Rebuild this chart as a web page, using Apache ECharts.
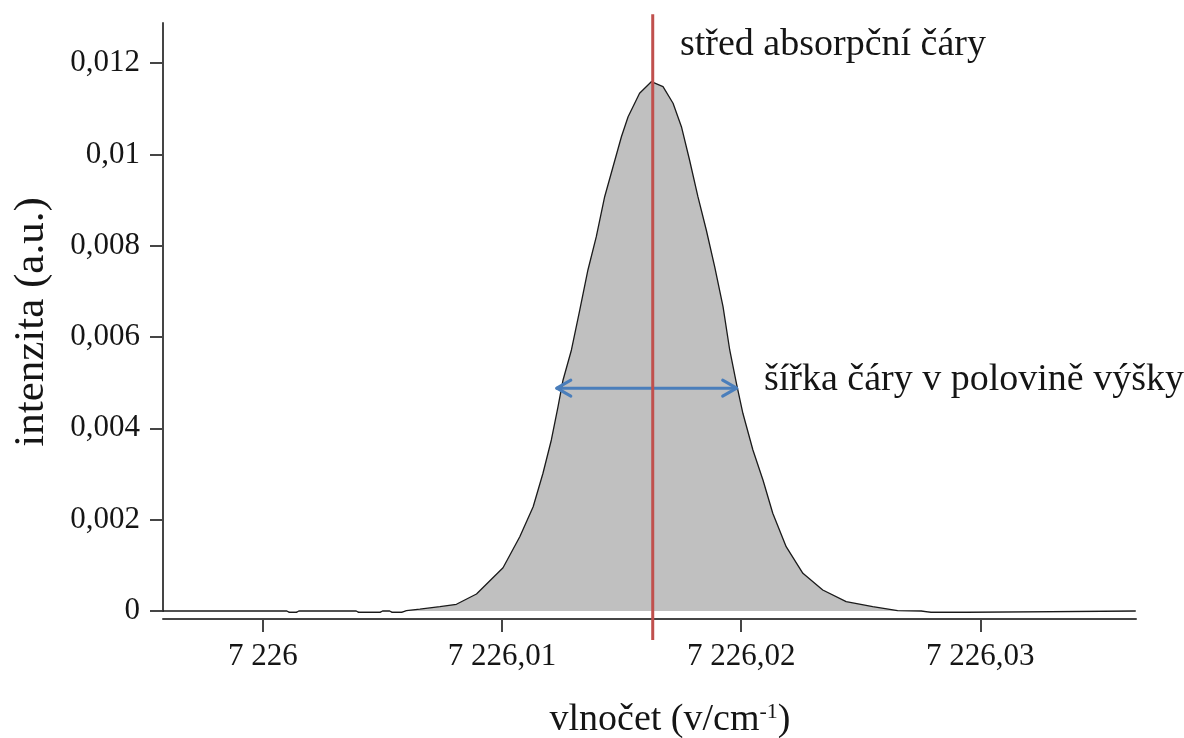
<!DOCTYPE html>
<html><head><meta charset="utf-8">
<script src="https://cdn.jsdelivr.net/npm/echarts@6/dist/echarts.min.js"></script>
<style>html,body{margin:0;padding:0;background:#fff}#c{width:1184px;height:738px}</style>
</head><body><div id="c"></div>
<script>
// ---- data ----
const xTicks = [7226, 7226.01, 7226.02, 7226.03];
const yTicks = [0, 0.002, 0.004, 0.006, 0.008, 0.01, 0.012];
const xRange = [7225.99582, 7226.03651];
const yRange = [0, 0.012877];
const waveNumber = [7225.9958, 7226.0010, 7226.0011, 7226.0014, 7226.0015, 7226.0039, 7226.0040, 7226.0049, 7226.0050, 7226.0053, 7226.0054, 7226.0058, 7226.0060, 7226.00656, 7226.0074, 7226.00809, 7226.00893, 7226.01004, 7226.01074, 7226.0113, 7226.01171, 7226.01206, 7226.01234, 7226.01255, 7226.0129, 7226.01325, 7226.01359, 7226.01394, 7226.01429, 7226.01464, 7226.01499, 7226.01527, 7226.01575, 7226.01624, 7226.01673, 7226.01715, 7226.0175, 7226.01784, 7226.01819, 7226.01854, 7226.01889, 7226.01924, 7226.01952, 7226.0198, 7226.02007, 7226.02049, 7226.02091, 7226.02132, 7226.02188, 7226.02258, 7226.02341, 7226.02439, 7226.0255, 7226.02654, 7226.02753, 7226.02758, 7226.02794, 7226.028, 7226.0285, 7226.02941, 7226.02946, 7226.0365];
const intensity = [0, 0, -0.00003, -0.00003, 0, 0, -0.00003, -0.00003, 0, 0, -0.00003, -0.00003, 0.00001, 0.00004, 0.000094, 0.000147, 0.000372, 0.000948, 0.001627, 0.002284, 0.003016, 0.003745, 0.004474, 0.005059, 0.005716, 0.006592, 0.007468, 0.008197, 0.009073, 0.00973, 0.010387, 0.010825, 0.011338, 0.011592, 0.011482, 0.011119, 0.010606, 0.009877, 0.009073, 0.008344, 0.00754, 0.006664, 0.005716, 0.004987, 0.00433, 0.003526, 0.002869, 0.00214, 0.001408, 0.000826, 0.00046, 0.000204, 0.000094, 0.00001, 0, -0.00003, -0.00003, 0, -0.00003, -0.00003, 0, 0];
const lineCenter = 7226.0163;
const centerLineSpan = [-0.000635, 0.01307];
const fwhmLevel = 0.00488;
const fwhmEnds = [7226.01229, 7226.01981];
const labels = {
  center: 'střed absorpční čáry',
  width: 'šířka čáry v polovině výšky',
  area: 'S',
  xName: 'vlnočet (v/cm{sup|-1})',
  yName: 'intenzita (a.u.)'
};

// ---- chart ----
const FONT = "'Liberation Serif', 'Times New Roman', serif";
const AXC = '#454545';
const TXT = '#151515';
function fmtX(v) {
  let s = (+v.toFixed(2)).toString();
  let [i, d] = s.split('.');
  i = i.replace(/\B(?=(\d{3})+(?!\d))/g, ' ');
  return d ? i + ',' + d : i;
}
function fmtY(v) { return (+v.toFixed(4)).toString().replace('.', ','); }

const chart = echarts.init(document.getElementById('c'), null, {renderer: 'canvas'});
chart.setOption({
  animation: false,
  backgroundColor: '#ffffff',
  grid: {left: 163, right: 48, top: 23, bottom: 127, containLabel: false, outerBoundsMode: 'none'},
  xAxis: {
    type: 'value', min: xRange[0], max: xRange[1], offset: 8,
    axisLine: {show: true, onZero: false, lineStyle: {color: AXC, width: 2}},
    axisTick: {show: true, customValues: xTicks, length: 13, lineStyle: {color: AXC, width: 2}},
    axisLabel: {customValues: xTicks, formatter: fmtX, margin: 22, fontSize: 31, fontFamily: FONT, color: TXT},
    splitLine: {show: false},
    name: labels.xName, nameLocation: 'middle', nameGap: 82,
    nameTextStyle: {fontSize: 38, fontFamily: FONT, color: TXT, padding: [0, 0, 0, 41],
      rich: {sup: {fontSize: 22, fontFamily: FONT, color: TXT, verticalAlign: 'top', padding: [0, 0, 14, 0]}}}
  },
  yAxis: {
    type: 'value', min: yRange[0], max: yRange[1],
    axisLine: {show: true, onZero: false, lineStyle: {color: AXC, width: 2}},
    axisTick: {show: true, customValues: yTicks, length: 13, lineStyle: {color: AXC, width: 2}},
    axisLabel: {customValues: yTicks, formatter: fmtY, margin: 23, fontSize: 31, fontFamily: FONT, color: TXT},
    splitLine: {show: false},
    name: labels.yName, nameLocation: 'middle', nameGap: 110,
    nameTextStyle: {fontSize: 43, fontFamily: FONT, color: TXT, padding: [0, 10, 0, 0]}
  },
  series: [
    {
      type: 'line', data: waveNumber.map((x, i) => [x, intensity[i]]),
      showSymbol: false, clip: false, smooth: false,
      lineStyle: {color: '#1a1a1a', width: 1.3},
      areaStyle: {color: '#c0c0c0', opacity: 1},
      z: 2
    },
    {
      type: 'custom', clip: false, z: 4,
      data: [[fwhmEnds[0], fwhmEnds[1], fwhmLevel]],
      renderItem: (params, api) => {
        const a = api.coord([api.value(0), api.value(2)]);
        const b = api.coord([api.value(1), api.value(2)]);
        const hl = 14, hh = 8;
        const st = {stroke: '#4a7ebb', lineWidth: 3, fill: null, lineCap: 'round', lineJoin: 'round'};
        return {type: 'group', children: [
          {type: 'line', shape: {x1: a[0], y1: a[1], x2: b[0], y2: b[1]}, style: st},
          {type: 'polyline', shape: {points: [[a[0] + hl, a[1] - hh], [a[0], a[1]], [a[0] + hl, a[1] + hh]]}, style: st},
          {type: 'polyline', shape: {points: [[b[0] - hl, b[1] - hh], [b[0], b[1]], [b[0] - hl, b[1] + hh]]}, style: st}
        ]};
      }
    },
    {
      type: 'custom', clip: false, z: 5,
      data: [[lineCenter, centerLineSpan[0], centerLineSpan[1]]],
      renderItem: (params, api) => {
        const a = api.coord([api.value(0), api.value(1)]);
        const b = api.coord([api.value(0), api.value(2)]);
        return {type: 'line', shape: {x1: a[0], y1: a[1], x2: b[0], y2: b[1]},
          style: {stroke: '#c0504d', lineWidth: 3}};
      }
    }
  ],
  graphic: [
    {type: 'text', x: 680, y: 45, style: {text: labels.center, fontSize: 38, fontFamily: FONT, fill: TXT, verticalAlign: 'middle'}},
    {type: 'text', x: 764, y: 380, style: {text: labels.width, fontSize: 38, fontFamily: FONT, fill: TXT, verticalAlign: 'middle'}},
    {type: 'text', x: 714, y: 537, style: {text: labels.area, fontSize: 38, fontFamily: FONT, fill: TXT, align: 'center', verticalAlign: 'middle'}}
  ]
});
</script>
</body></html>
